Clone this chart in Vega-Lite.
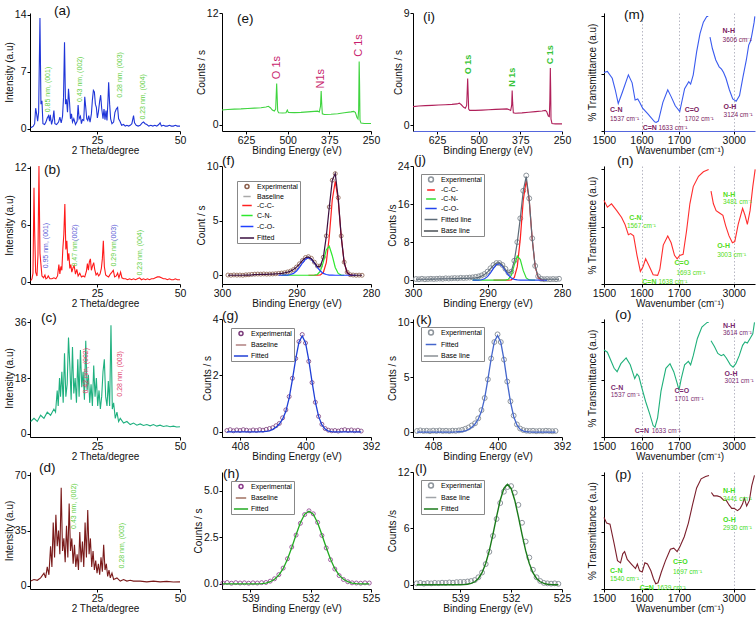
{
"$schema":"https://vega.github.io/schema/vega-lite/v6.json",
"padding":{"left":4,"top":3,"right":0,"bottom":0},
"config":{"font":"Liberation Sans","view":{"stroke":null},
"axis":{"grid":false,"domainColor":"#000","tickColor":"#000","tickSize":3,"labelColor":"#111","labelFontSize":10.5,"labelPadding":1,"labelFlush":false,"labelOverlap":false,"titleFontSize":10,"titleFontWeight":"normal","titleColor":"#111","titlePadding":0},
"title":{"fontSize":13.5,"fontWeight":"normal","anchor":"start","frame":"group","color":"#111"}},
"datasets":{
"xrd_a":[{"theta":5.0,"intensity":0.1},{"theta":5.4,"intensity":0.2},{"theta":5.8,"intensity":0.3},{"theta":6.2,"intensity":0.6},{"theta":6.5,"intensity":2.5},{"theta":6.8,"intensity":1.8},{"theta":7.1,"intensity":0.9},{"theta":7.4,"intensity":2.0},{"theta":7.8,"intensity":13.6},{"theta":8.1,"intensity":3.0},{"theta":8.4,"intensity":3.4},{"theta":8.7,"intensity":0.6},{"theta":9.2,"intensity":0.5},{"theta":9.6,"intensity":0.8},{"theta":10.0,"intensity":1.3},{"theta":10.4,"intensity":1.6},{"theta":10.7,"intensity":0.9},{"theta":10.9,"intensity":1.7},{"theta":11.3,"intensity":0.5},{"theta":11.7,"intensity":1.2},{"theta":12.0,"intensity":2.2},{"theta":12.3,"intensity":0.6},{"theta":12.8,"intensity":0.5},{"theta":13.4,"intensity":0.8},{"theta":13.8,"intensity":1.4},{"theta":14.2,"intensity":0.7},{"theta":14.6,"intensity":1.5},{"theta":14.9,"intensity":3.8},{"theta":15.2,"intensity":10.6},{"theta":15.5,"intensity":3.0},{"theta":15.8,"intensity":3.6},{"theta":16.1,"intensity":2.0},{"theta":16.4,"intensity":4.9},{"theta":16.7,"intensity":3.3},{"theta":17.0,"intensity":1.2},{"theta":17.3,"intensity":1.8},{"theta":17.6,"intensity":0.8},{"theta":18.0,"intensity":1.2},{"theta":18.5,"intensity":0.5},{"theta":19.0,"intensity":0.9},{"theta":19.3,"intensity":2.9},{"theta":19.6,"intensity":1.2},{"theta":20.0,"intensity":1.5},{"theta":20.3,"intensity":0.6},{"theta":20.6,"intensity":1.1},{"theta":21.0,"intensity":1.0},{"theta":21.3,"intensity":3.9},{"theta":21.6,"intensity":2.6},{"theta":21.9,"intensity":1.2},{"theta":22.2,"intensity":1.0},{"theta":22.5,"intensity":1.6},{"theta":22.9,"intensity":0.8},{"theta":23.3,"intensity":1.8},{"theta":23.6,"intensity":3.5},{"theta":23.9,"intensity":4.7},{"theta":24.2,"intensity":4.5},{"theta":24.5,"intensity":3.0},{"theta":24.8,"intensity":2.6},{"theta":25.1,"intensity":1.3},{"theta":25.4,"intensity":2.0},{"theta":25.8,"intensity":3.4},{"theta":26.1,"intensity":4.1},{"theta":26.4,"intensity":2.5},{"theta":26.8,"intensity":1.2},{"theta":27.1,"intensity":2.4},{"theta":27.4,"intensity":1.1},{"theta":27.7,"intensity":2.2},{"theta":28.0,"intensity":1.0},{"theta":28.3,"intensity":3.5},{"theta":28.5,"intensity":5.7},{"theta":28.8,"intensity":3.0},{"theta":29.1,"intensity":1.2},{"theta":29.5,"intensity":0.6},{"theta":30.0,"intensity":0.8},{"theta":30.4,"intensity":2.0},{"theta":30.8,"intensity":2.4},{"theta":31.2,"intensity":2.6},{"theta":31.5,"intensity":1.2},{"theta":31.9,"intensity":0.9},{"theta":32.4,"intensity":0.4},{"theta":33.0,"intensity":0.5},{"theta":33.5,"intensity":0.3},{"theta":34.0,"intensity":0.4},{"theta":34.5,"intensity":0.3},{"theta":35.0,"intensity":0.4},{"theta":35.5,"intensity":0.6},{"theta":36.0,"intensity":1.6},{"theta":36.3,"intensity":0.7},{"theta":36.8,"intensity":0.4},{"theta":37.4,"intensity":0.3},{"theta":38.0,"intensity":0.4},{"theta":38.6,"intensity":0.7},{"theta":39.0,"intensity":0.8},{"theta":39.5,"intensity":0.6},{"theta":40.0,"intensity":0.5},{"theta":40.6,"intensity":0.3},{"theta":41.2,"intensity":0.4},{"theta":41.8,"intensity":0.3},{"theta":42.4,"intensity":0.4},{"theta":43.0,"intensity":0.3},{"theta":43.6,"intensity":0.5},{"theta":44.0,"intensity":0.7},{"theta":44.4,"intensity":0.3},{"theta":45.0,"intensity":0.4},{"theta":45.6,"intensity":0.3},{"theta":46.2,"intensity":0.3},{"theta":46.8,"intensity":0.4},{"theta":47.4,"intensity":0.3},{"theta":48.0,"intensity":0.3},{"theta":48.6,"intensity":0.4},{"theta":49.2,"intensity":0.3},{"theta":50.0,"intensity":0.3}],
"xrd_b":[{"theta":5.0,"intensity":0.1},{"theta":5.4,"intensity":0.3},{"theta":5.7,"intensity":0.9},{"theta":6.0,"intensity":9.9},{"theta":6.2,"intensity":5.3},{"theta":6.5,"intensity":1.0},{"theta":6.9,"intensity":0.6},{"theta":7.2,"intensity":2.8},{"theta":7.5,"intensity":12.2},{"theta":7.8,"intensity":3.0},{"theta":8.1,"intensity":1.8},{"theta":8.4,"intensity":0.6},{"theta":8.9,"intensity":0.4},{"theta":9.3,"intensity":0.7},{"theta":9.6,"intensity":0.3},{"theta":10.0,"intensity":0.4},{"theta":10.3,"intensity":0.6},{"theta":10.8,"intensity":0.3},{"theta":11.4,"intensity":0.3},{"theta":12.0,"intensity":0.4},{"theta":12.6,"intensity":0.3},{"theta":13.1,"intensity":0.6},{"theta":13.5,"intensity":1.8},{"theta":13.8,"intensity":0.8},{"theta":14.1,"intensity":1.6},{"theta":14.4,"intensity":1.2},{"theta":14.7,"intensity":3.5},{"theta":15.0,"intensity":5.0},{"theta":15.3,"intensity":8.2},{"theta":15.6,"intensity":3.4},{"theta":15.9,"intensity":4.3},{"theta":16.2,"intensity":2.2},{"theta":16.5,"intensity":3.0},{"theta":16.8,"intensity":1.4},{"theta":17.1,"intensity":1.8},{"theta":17.4,"intensity":1.0},{"theta":17.8,"intensity":1.5},{"theta":18.1,"intensity":1.7},{"theta":18.5,"intensity":0.8},{"theta":18.9,"intensity":1.3},{"theta":19.3,"intensity":0.6},{"theta":19.8,"intensity":0.9},{"theta":20.3,"intensity":0.5},{"theta":20.8,"intensity":0.6},{"theta":21.3,"intensity":0.5},{"theta":21.8,"intensity":1.1},{"theta":22.1,"intensity":1.9},{"theta":22.4,"intensity":1.2},{"theta":22.7,"intensity":2.1},{"theta":23.0,"intensity":2.4},{"theta":23.3,"intensity":1.2},{"theta":23.6,"intensity":1.6},{"theta":24.0,"intensity":2.0},{"theta":24.3,"intensity":1.3},{"theta":24.7,"intensity":0.7},{"theta":25.1,"intensity":0.9},{"theta":25.5,"intensity":0.6},{"theta":25.9,"intensity":0.8},{"theta":26.3,"intensity":1.4},{"theta":26.6,"intensity":2.4},{"theta":26.9,"intensity":4.3},{"theta":27.2,"intensity":1.6},{"theta":27.6,"intensity":0.7},{"theta":28.0,"intensity":0.6},{"theta":28.5,"intensity":0.5},{"theta":29.0,"intensity":0.8},{"theta":29.5,"intensity":1.0},{"theta":29.9,"intensity":1.2},{"theta":30.3,"intensity":0.5},{"theta":30.8,"intensity":0.6},{"theta":31.2,"intensity":0.9},{"theta":31.6,"intensity":0.4},{"theta":32.1,"intensity":1.0},{"theta":32.5,"intensity":0.4},{"theta":33.0,"intensity":0.3},{"theta":33.6,"intensity":0.3},{"theta":34.2,"intensity":0.2},{"theta":34.8,"intensity":0.3},{"theta":35.4,"intensity":0.2},{"theta":36.0,"intensity":0.3},{"theta":36.6,"intensity":0.2},{"theta":37.2,"intensity":0.3},{"theta":37.8,"intensity":0.4},{"theta":38.4,"intensity":0.2},{"theta":39.0,"intensity":0.3},{"theta":39.6,"intensity":0.2},{"theta":40.2,"intensity":0.3},{"theta":40.8,"intensity":0.2},{"theta":41.4,"intensity":0.3},{"theta":42.0,"intensity":0.3},{"theta":42.6,"intensity":0.4},{"theta":43.2,"intensity":0.5},{"theta":43.8,"intensity":0.5},{"theta":44.4,"intensity":0.4},{"theta":45.0,"intensity":0.3},{"theta":45.6,"intensity":0.3},{"theta":46.2,"intensity":0.2},{"theta":46.8,"intensity":0.3},{"theta":47.4,"intensity":0.2},{"theta":48.0,"intensity":0.2},{"theta":48.6,"intensity":0.3},{"theta":49.2,"intensity":0.2},{"theta":50.0,"intensity":0.2}],
"xrd_c":[{"theta":5.0,"intensity":4},{"theta":6,"intensity":5},{"theta":7,"intensity":4},{"theta":8,"intensity":6},{"theta":9,"intensity":5},{"theta":10,"intensity":7},{"theta":11,"intensity":6},{"theta":12,"intensity":8},{"theta":12.5,"intensity":7},{"theta":13.0,"intensity":14},{"theta":13.3,"intensity":9},{"theta":13.7,"intensity":18},{"theta":14.0,"intensity":12},{"theta":14.4,"intensity":20},{"theta":14.8,"intensity":10},{"theta":15.2,"intensity":26},{"theta":15.6,"intensity":12},{"theta":16.0,"intensity":16},{"theta":16.4,"intensity":31},{"theta":16.8,"intensity":22},{"theta":17.2,"intensity":11},{"theta":17.6,"intensity":28},{"theta":18.0,"intensity":13},{"theta":18.4,"intensity":18},{"theta":18.8,"intensity":10},{"theta":19.2,"intensity":24},{"theta":19.6,"intensity":12},{"theta":20.0,"intensity":27},{"theta":20.4,"intensity":15},{"theta":20.8,"intensity":20},{"theta":21.2,"intensity":11},{"theta":21.6,"intensity":30},{"theta":22.0,"intensity":14},{"theta":22.4,"intensity":19},{"theta":22.8,"intensity":10},{"theta":23.2,"intensity":16},{"theta":23.6,"intensity":9},{"theta":24.0,"intensity":22},{"theta":24.4,"intensity":12},{"theta":24.8,"intensity":18},{"theta":25.2,"intensity":9},{"theta":25.6,"intensity":14},{"theta":26.0,"intensity":8},{"theta":26.4,"intensity":12},{"theta":26.8,"intensity":20},{"theta":27.2,"intensity":24},{"theta":27.6,"intensity":12},{"theta":28.0,"intensity":9},{"theta":28.4,"intensity":17},{"theta":28.8,"intensity":9},{"theta":29.2,"intensity":35},{"theta":29.6,"intensity":8},{"theta":30.0,"intensity":10},{"theta":30.5,"intensity":5},{"theta":31,"intensity":7},{"theta":31.5,"intensity":4},{"theta":32,"intensity":5},{"theta":33,"intensity":3.5},{"theta":34,"intensity":4},{"theta":35,"intensity":3},{"theta":36,"intensity":3.5},{"theta":37,"intensity":2.8},{"theta":38,"intensity":3.2},{"theta":39,"intensity":2.7},{"theta":40,"intensity":3},{"theta":41,"intensity":2.6},{"theta":42,"intensity":3},{"theta":43,"intensity":2.5},{"theta":44,"intensity":2.8},{"theta":45,"intensity":2.4},{"theta":46,"intensity":2.6},{"theta":47,"intensity":2.3},{"theta":48,"intensity":2.5},{"theta":49,"intensity":2.2},{"theta":50,"intensity":2.3}],
"xrd_d":[{"theta":5,"intensity":3},{"theta":6,"intensity":4},{"theta":7,"intensity":3.5},{"theta":8,"intensity":5},{"theta":9,"intensity":8},{"theta":9.5,"intensity":5},{"theta":10,"intensity":12},{"theta":10.5,"intensity":7},{"theta":11,"intensity":25},{"theta":11.4,"intensity":12},{"theta":11.8,"intensity":40},{"theta":12.2,"intensity":18},{"theta":12.6,"intensity":45},{"theta":13.0,"intensity":25},{"theta":13.4,"intensity":35},{"theta":13.8,"intensity":20},{"theta":14.2,"intensity":62},{"theta":14.6,"intensity":22},{"theta":15.0,"intensity":30},{"theta":15.4,"intensity":15},{"theta":15.8,"intensity":38},{"theta":16.2,"intensity":18},{"theta":16.6,"intensity":52},{"theta":17.0,"intensity":22},{"theta":17.4,"intensity":30},{"theta":17.8,"intensity":14},{"theta":18.2,"intensity":26},{"theta":18.6,"intensity":12},{"theta":19.0,"intensity":20},{"theta":19.4,"intensity":10},{"theta":19.8,"intensity":34},{"theta":20.2,"intensity":15},{"theta":20.6,"intensity":28},{"theta":21.0,"intensity":12},{"theta":21.4,"intensity":40},{"theta":21.8,"intensity":18},{"theta":22.2,"intensity":48},{"theta":22.6,"intensity":20},{"theta":23.0,"intensity":30},{"theta":23.4,"intensity":12},{"theta":23.8,"intensity":22},{"theta":24.2,"intensity":10},{"theta":24.6,"intensity":16},{"theta":25.0,"intensity":8},{"theta":25.4,"intensity":14},{"theta":25.8,"intensity":7},{"theta":26.2,"intensity":18},{"theta":26.6,"intensity":9},{"theta":27.0,"intensity":26},{"theta":27.4,"intensity":10},{"theta":27.8,"intensity":14},{"theta":28.2,"intensity":6},{"theta":28.6,"intensity":10},{"theta":29.0,"intensity":5},{"theta":29.5,"intensity":8},{"theta":30,"intensity":4},{"theta":31,"intensity":5},{"theta":32,"intensity":3},{"theta":33,"intensity":4},{"theta":34,"intensity":3},{"theta":35,"intensity":3.5},{"theta":36,"intensity":3},{"theta":38,"intensity":3},{"theta":40,"intensity":2.5},{"theta":42,"intensity":3},{"theta":44,"intensity":2.5},{"theta":46,"intensity":2.8},{"theta":48,"intensity":2.4},{"theta":50,"intensity":2.5}],
"lab_a":[{"theta":10.3,"intensity":2.0,"label":"0.85 nm, (001)"},{"theta":19.8,"intensity":3.25,"label":"0.43 nm, (002)"},{"theta":31.8,"intensity":3.8,"label":"0.28 nm, (003)"},{"theta":38.8,"intensity":1.1,"label":"0.23 nm, (004)"}],
"lab_b":[{"theta":9.5,"intensity":1.4,"label":"0.95 nm, (001)","part":"hkl"},{"theta":18.5,"intensity":1.6,"label":"0.47 nm,","part":"d"},{"theta":18.5,"intensity":4.3,"label":"(002)","part":"hkl"},{"theta":30.1,"intensity":1.6,"label":"0.29 nm,","part":"d"},{"theta":30.1,"intensity":4.3,"label":"(003)","part":"hkl"},{"theta":37.8,"intensity":0.65,"label":"0.23 nm, (004)","part":"d"}],
"lab_c":[{"theta":21.8,"intensity":13,"label":"0.42 nm, (002)"},{"theta":32,"intensity":12,"label":"0.28 nm, (003)"}],
"lab_d":[{"theta":18.2,"intensity":36,"label":"0.43 nm, (002)"},{"theta":32.6,"intensity":11,"label":"0.28 nm, (003)"}],
"sv_e":[{"be":697,"counts":1.6},{"be":680,"counts":1.65},{"be":660,"counts":1.7},{"be":640,"counts":1.72},{"be":620,"counts":1.76},{"be":600,"counts":1.8},{"be":580,"counts":1.85},{"be":565,"counts":1.92},{"be":558,"counts":2.0},{"be":552,"counts":1.85},{"be":546,"counts":1.6},{"be":540,"counts":1.5},{"be":536,"counts":1.7},{"be":533,"counts":4.43},{"be":531.5,"counts":3.0},{"be":530,"counts":1.5},{"be":527,"counts":1.3},{"be":515,"counts":1.28},{"be":505,"counts":1.3},{"be":501,"counts":1.6},{"be":498,"counts":1.35},{"be":480,"counts":1.32},{"be":460,"counts":1.35},{"be":440,"counts":1.4},{"be":420,"counts":1.45},{"be":410,"counts":1.48},{"be":405,"counts":1.4},{"be":401.5,"counts":2.0},{"be":399.5,"counts":3.64},{"be":398,"counts":2.4},{"be":396,"counts":1.2},{"be":390,"counts":1.12},{"be":370,"counts":1.15},{"be":350,"counts":1.2},{"be":330,"counts":1.3},{"be":310,"counts":1.4},{"be":302,"counts":1.45},{"be":297,"counts":1.35},{"be":292,"counts":0.8},{"be":289,"counts":0.65},{"be":287,"counts":1.6},{"be":285.5,"counts":6.8},{"be":284.3,"counts":4.5},{"be":283,"counts":0.5},{"be":280,"counts":0.2},{"be":270,"counts":0.15},{"be":260,"counts":0.15},{"be":250,"counts":0.15}],
"sv_i":[{"be":697,"counts":1.5},{"be":680,"counts":1.55},{"be":660,"counts":1.58},{"be":640,"counts":1.6},{"be":620,"counts":1.63},{"be":600,"counts":1.65},{"be":580,"counts":1.68},{"be":565,"counts":1.72},{"be":558,"counts":1.78},{"be":552,"counts":1.65},{"be":545,"counts":1.45},{"be":540,"counts":1.38},{"be":536,"counts":1.6},{"be":533,"counts":3.75},{"be":531.5,"counts":2.6},{"be":530,"counts":1.3},{"be":527,"counts":1.2},{"be":510,"counts":1.2},{"be":490,"counts":1.22},{"be":470,"counts":1.25},{"be":450,"counts":1.28},{"be":430,"counts":1.3},{"be":415,"counts":1.32},{"be":408,"counts":1.25},{"be":404,"counts":1.2},{"be":401,"counts":1.6},{"be":399.5,"counts":2.8},{"be":398,"counts":1.8},{"be":396,"counts":1.0},{"be":390,"counts":0.97},{"be":370,"counts":1.0},{"be":350,"counts":1.05},{"be":330,"counts":1.1},{"be":310,"counts":1.15},{"be":300,"counts":1.2},{"be":296,"counts":1.1},{"be":291,"counts":0.75},{"be":288,"counts":0.7},{"be":286.5,"counts":2.0},{"be":285,"counts":4.6},{"be":284,"counts":3.0},{"be":283,"counts":0.5},{"be":280,"counts":0.15},{"be":270,"counts":0.12},{"be":260,"counts":0.12},{"be":250,"counts":0.12}],
"svl_e":[{"be":532,"counts":4.9,"label":"O 1s"},{"be":400,"counts":3.9,"label":"N1s"},{"be":285,"counts":7.3,"label":"C 1s"}],
"svl_i":[{"be":532,"counts":4.1,"label":"O 1s"},{"be":400,"counts":3.1,"label":"N 1s"},{"be":285,"counts":4.9,"label":"C 1s"}],
"xps_f":[{"be":299.2,"Experimental":0.02,"Fitted":0,"Baseline":0},{"be":298.8,"Experimental":0.0,"Fitted":0},{"be":298.4,"Experimental":0.03,"Fitted":0},{"be":298.0,"Experimental":0.01,"Fitted":0},{"be":297.6,"Experimental":0.02,"Fitted":0},{"be":297.2,"Experimental":0.0,"Fitted":0},{"be":296.8,"Experimental":0.04,"Fitted":0.01},{"be":296.4,"Experimental":0.05,"Fitted":0.02},{"be":296.0,"Experimental":0.08,"Fitted":0.03},{"be":295.6,"Experimental":0.1,"Fitted":0.05},{"be":295.2,"Experimental":0.11,"Fitted":0.07},{"be":294.8,"Experimental":0.1,"Fitted":0.08},{"be":294.4,"Experimental":0.12,"Fitted":0.08},{"be":294.0,"Experimental":0.1,"Fitted":0.09},{"be":293.6,"Experimental":0.11,"Fitted":0.1},{"be":293.2,"Experimental":0.12,"Fitted":0.11},{"be":292.8,"Experimental":0.14,"Fitted":0.13},{"be":292.4,"Experimental":0.17,"Fitted":0.15,"-C-O-":0},{"be":292.0,"Experimental":0.2,"Fitted":0.18,"C-N-":0,"-C-O-":0},{"be":291.6,"Experimental":0.23,"Fitted":0.22,"C-N-":0,"-C-O-":0.01},{"be":291.2,"Experimental":0.3,"Fitted":0.28,"C-N-":0,"-C-O-":0.02},{"be":290.8,"Experimental":0.38,"Fitted":0.38,"C-N-":0,"-C-O-":0.07},{"be":290.4,"Experimental":0.52,"Fitted":0.52,"C-N-":0,"-C-O-":0.17},{"be":290.0,"Experimental":0.75,"Fitted":0.74,"C-N-":0,"-C-O-":0.39},{"be":289.6,"Experimental":1.05,"Fitted":1.02,"C-N-":0,"-C-O-":0.72},{"be":289.2,"Experimental":1.35,"Fitted":1.35,"C-N-":0,"-C-O-":1.12},{"be":288.8,"Experimental":1.62,"Fitted":1.6,"C-N-":0,"-C-O-":1.46},{"be":288.4,"Experimental":1.7,"Fitted":1.68,"-C-C-":0,"C-N-":0,"-C-O-":1.6},{"be":288.0,"Experimental":1.55,"Fitted":1.52,"-C-C-":0,"C-N-":0,"-C-O-":1.46},{"be":287.6,"Experimental":1.2,"Fitted":1.15,"-C-C-":0,"C-N-":0.01,"-C-O-":1.12},{"be":287.2,"Experimental":0.85,"Fitted":0.8,"-C-C-":0,"C-N-":0.07,"-C-O-":0.72},{"be":286.8,"Experimental":0.85,"Fitted":0.82,"-C-C-":0.03,"C-N-":0.37,"-C-O-":0.39},{"be":286.4,"Experimental":1.65,"Fitted":1.62,"-C-C-":0.25,"C-N-":1.2,"-C-O-":0.17},{"be":286.0,"Experimental":3.6,"Fitted":3.56,"-C-C-":1.16,"C-N-":2.33,"-C-O-":0.07},{"be":285.6,"Experimental":6.25,"Fitted":6.22,"-C-C-":3.54,"C-N-":2.66,"-C-O-":0.02},{"be":285.2,"Experimental":8.7,"Fitted":8.69,"-C-C-":6.89,"C-N-":1.79,"-C-O-":0.01},{"be":284.8,"Experimental":9.3,"Fitted":9.31,"-C-C-":8.6,"C-N-":0.71,"-C-O-":0},{"be":284.4,"Experimental":7.1,"Fitted":7.06,"-C-C-":6.89,"C-N-":0.17,"-C-O-":0},{"be":284.0,"Experimental":3.6,"Fitted":3.56,"-C-C-":3.54,"C-N-":0.02,"-C-O-":0},{"be":283.6,"Experimental":1.2,"Fitted":1.16,"-C-C-":1.16,"C-N-":0,"-C-O-":0},{"be":283.2,"Experimental":0.28,"Fitted":0.25,"-C-C-":0.25,"-C-O-":0},{"be":282.8,"Experimental":0.05,"Fitted":0.03,"-C-C-":0.03,"-C-O-":0},{"be":282.4,"Experimental":0.02,"Fitted":0,"-C-C-":0,"-C-O-":0},{"be":282.0,"Experimental":0.0,"Fitted":0,"-C-O-":0},{"be":281.6,"Experimental":0.01,"Fitted":0},{"be":281.2,"Experimental":0.0,"Fitted":0,"Baseline":0}],
"xps_j":[{"be":299.6,"Experimental":0.25,"Fitted line":0.2,"Base line":0},{"be":299.2,"Experimental":0.2,"Fitted line":0.2},{"be":298.8,"Experimental":0.3,"Fitted line":0.2},{"be":298.4,"Experimental":0.2,"Fitted line":0.2},{"be":298.0,"Experimental":0.25,"Fitted line":0.2},{"be":297.6,"Experimental":0.3,"Fitted line":0.22},{"be":297.2,"Experimental":0.25,"Fitted line":0.22},{"be":296.8,"Experimental":0.3,"Fitted line":0.25},{"be":296.4,"Experimental":0.35,"Fitted line":0.27},{"be":296.0,"Experimental":0.3,"Fitted line":0.28},{"be":295.6,"Experimental":0.4,"Fitted line":0.3},{"be":295.2,"Experimental":0.35,"Fitted line":0.3},{"be":294.8,"Experimental":0.4,"Fitted line":0.32},{"be":294.4,"Experimental":0.45,"Fitted line":0.33},{"be":294.0,"Experimental":0.4,"Fitted line":0.35},{"be":293.6,"Experimental":0.5,"Fitted line":0.37},{"be":293.2,"Experimental":0.45,"Fitted line":0.38},{"be":292.8,"Experimental":0.5,"Fitted line":0.4},{"be":292.4,"Experimental":0.55,"Fitted line":0.42},{"be":292.0,"Experimental":0.6,"Fitted line":0.45,"-C-N-":0,"-C-O-":0},{"be":291.6,"Experimental":0.7,"Fitted line":0.5,"-C-N-":0,"-C-O-":0},{"be":291.2,"Experimental":0.8,"Fitted line":0.6,"-C-N-":0,"-C-O-":0.02},{"be":290.8,"Experimental":1.0,"Fitted line":0.85,"-C-N-":0,"-C-O-":0.09},{"be":290.4,"Experimental":1.3,"Fitted line":1.2,"-C-N-":0,"-C-O-":0.29},{"be":290.0,"Experimental":1.8,"Fitted line":1.7,"-C-N-":0,"-C-O-":0.74},{"be":289.6,"Experimental":2.5,"Fitted line":2.4,"-C-N-":0,"-C-O-":1.52},{"be":289.2,"Experimental":3.2,"Fitted line":3.1,"-C-C-":0,"-C-N-":0,"-C-O-":2.49},{"be":288.8,"Experimental":3.6,"Fitted line":3.6,"-C-C-":0,"-C-N-":0,"-C-O-":3.29},{"be":288.4,"Experimental":3.6,"Fitted line":3.7,"-C-C-":0,"-C-N-":0,"-C-O-":3.48},{"be":288.0,"Experimental":3.2,"Fitted line":3.2,"-C-C-":0,"-C-N-":0,"-C-O-":2.94},{"be":287.6,"Experimental":2.4,"Fitted line":2.3,"-C-C-":0,"-C-N-":0.02,"-C-O-":2.0},{"be":287.2,"Experimental":1.6,"Fitted line":1.5,"-C-C-":0,"-C-N-":0.18,"-C-O-":1.09},{"be":286.8,"Experimental":1.8,"Fitted line":1.8,"-C-C-":0.08,"-C-N-":1.05,"-C-O-":0.47},{"be":286.4,"Experimental":4.1,"Fitted line":4.1,"-C-C-":0.6,"-C-N-":3.21,"-C-O-":0.17},{"be":286.0,"Experimental":8.0,"Fitted line":8.0,"-C-C-":2.84,"-C-N-":5.09,"-C-O-":0.05},{"be":285.6,"Experimental":13.0,"Fitted line":13.0,"-C-C-":8.63,"-C-N-":4.34,"-C-O-":0.01},{"be":285.2,"Experimental":18.8,"Fitted line":18.8,"-C-C-":16.82,"-C-N-":2.0,"-C-O-":0},{"be":284.8,"Experimental":22.0,"Fitted line":21.8,"-C-C-":21.0,"-C-N-":0.47,"-C-O-":0},{"be":284.4,"Experimental":17.2,"Fitted line":16.9,"-C-C-":16.82,"-C-N-":0.06,"-C-O-":0},{"be":284.0,"Experimental":8.8,"Fitted line":8.7,"-C-C-":8.63,"-C-N-":0,"-C-O-":0},{"be":283.6,"Experimental":3.0,"Fitted line":2.9,"-C-C-":2.84,"-C-N-":0,"-C-O-":0},{"be":283.2,"Experimental":0.8,"Fitted line":0.7,"-C-C-":0.6,"-C-O-":0},{"be":282.8,"Experimental":0.3,"Fitted line":0.25,"-C-C-":0.08,"-C-O-":0},{"be":282.4,"Experimental":0.2,"Fitted line":0.2,"-C-C-":0,"-C-O-":0},{"be":282.0,"Experimental":0.25,"Fitted line":0.2,"-C-O-":0},{"be":281.6,"Experimental":0.2,"Fitted line":0.2},{"be":281.2,"Experimental":0.25,"Fitted line":0.2},{"be":280.8,"Experimental":0.2,"Fitted line":0.2},{"be":280.4,"Experimental":0.3,"Fitted line":0.2,"Base line":0}],
"xps_g":[{"be":409.6,"Experimental":0.05,"Fitted":0,"Baseline":0},{"be":409.2,"Experimental":0.08,"Fitted":0},{"be":408.8,"Experimental":0.04,"Fitted":0},{"be":408.4,"Experimental":0.07,"Fitted":0},{"be":408.0,"Experimental":0.05,"Fitted":0},{"be":407.6,"Experimental":0.08,"Fitted":0},{"be":407.2,"Experimental":0.06,"Fitted":0},{"be":406.8,"Experimental":0.04,"Fitted":0},{"be":406.4,"Experimental":0.07,"Fitted":0},{"be":406.0,"Experimental":0.05,"Fitted":0},{"be":405.6,"Experimental":0.08,"Fitted":0},{"be":405.2,"Experimental":0.06,"Fitted":0.01},{"be":404.8,"Experimental":0.09,"Fitted":0.02},{"be":404.4,"Experimental":0.12,"Fitted":0.04},{"be":404.0,"Experimental":0.15,"Fitted":0.09},{"be":403.6,"Experimental":0.22,"Fitted":0.17},{"be":403.2,"Experimental":0.3,"Fitted":0.28},{"be":402.8,"Experimental":0.5,"Fitted":0.45},{"be":402.4,"Experimental":0.78,"Fitted":0.73},{"be":402.0,"Experimental":1.25,"Fitted":1.2},{"be":401.6,"Experimental":1.9,"Fitted":1.85},{"be":401.2,"Experimental":2.6,"Fitted":2.58},{"be":400.8,"Experimental":3.2,"Fitted":3.18},{"be":400.4,"Experimental":3.45,"Fitted":3.4},{"be":400.0,"Experimental":3.15,"Fitted":3.16},{"be":399.6,"Experimental":2.5,"Fitted":2.54},{"be":399.2,"Experimental":1.75,"Fitted":1.77},{"be":398.8,"Experimental":1.05,"Fitted":1.06},{"be":398.4,"Experimental":0.55,"Fitted":0.55},{"be":398.0,"Experimental":0.27,"Fitted":0.25},{"be":397.6,"Experimental":0.12,"Fitted":0.1},{"be":397.2,"Experimental":0.06,"Fitted":0.03},{"be":396.8,"Experimental":0.04,"Fitted":0.01},{"be":396.4,"Experimental":0.05,"Fitted":0},{"be":396.0,"Experimental":0.03,"Fitted":0},{"be":395.6,"Experimental":0.06,"Fitted":0},{"be":395.2,"Experimental":0.08,"Fitted":0},{"be":394.8,"Experimental":0.05,"Fitted":0},{"be":394.4,"Experimental":0.07,"Fitted":0},{"be":394.0,"Experimental":0.04,"Fitted":0},{"be":393.6,"Experimental":0.06,"Fitted":0},{"be":393.2,"Experimental":0.03,"Fitted":0,"Baseline":0}],
"xps_k":[{"be":410.0,"Experimental":0.1,"Fitted":0,"Base line":0},{"be":409.6,"Experimental":0.15,"Fitted":0},{"be":409.2,"Experimental":0.1,"Fitted":0},{"be":408.8,"Experimental":0.12,"Fitted":0},{"be":408.4,"Experimental":0.08,"Fitted":0},{"be":408.0,"Experimental":0.13,"Fitted":0},{"be":407.6,"Experimental":0.1,"Fitted":0},{"be":407.2,"Experimental":0.14,"Fitted":0},{"be":406.8,"Experimental":0.1,"Fitted":0},{"be":406.4,"Experimental":0.12,"Fitted":0},{"be":406.0,"Experimental":0.09,"Fitted":0},{"be":405.6,"Experimental":0.13,"Fitted":0},{"be":405.2,"Experimental":0.11,"Fitted":0.01},{"be":404.8,"Experimental":0.15,"Fitted":0.03},{"be":404.4,"Experimental":0.2,"Fitted":0.05},{"be":404.0,"Experimental":0.3,"Fitted":0.1},{"be":403.6,"Experimental":0.42,"Fitted":0.23},{"be":403.2,"Experimental":0.6,"Fitted":0.44},{"be":402.8,"Experimental":0.8,"Fitted":0.73},{"be":402.4,"Experimental":1.25,"Fitted":1.17},{"be":402.0,"Experimental":2.0,"Fitted":1.89},{"be":401.6,"Experimental":3.1,"Fitted":3.1},{"be":401.2,"Experimental":4.8,"Fitted":4.79},{"be":400.8,"Experimental":6.7,"Fitted":6.68},{"be":400.4,"Experimental":8.2,"Fitted":8.24},{"be":400.0,"Experimental":8.9,"Fitted":8.81},{"be":399.6,"Experimental":8.2,"Fitted":8.18},{"be":399.2,"Experimental":6.6,"Fitted":6.58},{"be":398.8,"Experimental":4.6,"Fitted":4.58},{"be":398.4,"Experimental":2.8,"Fitted":2.75},{"be":398.0,"Experimental":1.5,"Fitted":1.42},{"be":397.6,"Experimental":0.7,"Fitted":0.65},{"be":397.2,"Experimental":0.32,"Fitted":0.25},{"be":396.8,"Experimental":0.18,"Fitted":0.09},{"be":396.4,"Experimental":0.12,"Fitted":0.03},{"be":396.0,"Experimental":0.1,"Fitted":0.01},{"be":395.6,"Experimental":0.12,"Fitted":0},{"be":395.2,"Experimental":0.08,"Fitted":0},{"be":394.8,"Experimental":0.11,"Fitted":0},{"be":394.4,"Experimental":0.09,"Fitted":0},{"be":394.0,"Experimental":0.12,"Fitted":0},{"be":393.6,"Experimental":0.1,"Fitted":0},{"be":393.2,"Experimental":0.08,"Fitted":0},{"be":392.8,"Experimental":0.1,"Fitted":0,"Base line":0}],
"xps_h":[{"be":542.2,"Experimental":0.05,"Fitted":0,"Baseline":0},{"be":541.7,"Experimental":0.08,"Fitted":0},{"be":541.2,"Experimental":0.04,"Fitted":0},{"be":540.7,"Experimental":0.07,"Fitted":0},{"be":540.2,"Experimental":0.05,"Fitted":0},{"be":539.7,"Experimental":0.06,"Fitted":0},{"be":539.2,"Experimental":0.04,"Fitted":0.01},{"be":538.7,"Experimental":0.06,"Fitted":0.01},{"be":538.2,"Experimental":0.05,"Fitted":0.01},{"be":537.7,"Experimental":0.07,"Fitted":0.02},{"be":537.2,"Experimental":0.08,"Fitted":0.05},{"be":536.7,"Experimental":0.15,"Fitted":0.12},{"be":536.2,"Experimental":0.28,"Fitted":0.25},{"be":535.7,"Experimental":0.5,"Fitted":0.47},{"be":535.2,"Experimental":0.85,"Fitted":0.82},{"be":534.7,"Experimental":1.35,"Fitted":1.32},{"be":534.2,"Experimental":1.98,"Fitted":1.95},{"be":533.7,"Experimental":2.62,"Fitted":2.64},{"be":533.2,"Experimental":3.25,"Fitted":3.28},{"be":532.7,"Experimental":3.72,"Fitted":3.74},{"be":532.2,"Experimental":3.92,"Fitted":3.9},{"be":531.7,"Experimental":3.76,"Fitted":3.74},{"be":531.2,"Experimental":3.3,"Fitted":3.28},{"be":530.7,"Experimental":2.6,"Fitted":2.64},{"be":530.2,"Experimental":1.93,"Fitted":1.95},{"be":529.7,"Experimental":1.3,"Fitted":1.32},{"be":529.2,"Experimental":0.8,"Fitted":0.82},{"be":528.7,"Experimental":0.45,"Fitted":0.47},{"be":528.2,"Experimental":0.24,"Fitted":0.25},{"be":527.7,"Experimental":0.12,"Fitted":0.12},{"be":527.2,"Experimental":0.06,"Fitted":0.05},{"be":526.7,"Experimental":0.05,"Fitted":0.02},{"be":526.2,"Experimental":0.04,"Fitted":0.01},{"be":525.7,"Experimental":0.06,"Fitted":0},{"be":525.2,"Experimental":0.05,"Fitted":0,"Baseline":0}],
"xps_l":[{"be":545.0,"Experimental":0.15,"Fitted":0,"Base line":0},{"be":544.5,"Experimental":0.2,"Fitted":0},{"be":544.0,"Experimental":0.12,"Fitted":0},{"be":543.5,"Experimental":0.18,"Fitted":0},{"be":543.0,"Experimental":0.15,"Fitted":0},{"be":542.5,"Experimental":0.2,"Fitted":0},{"be":542.0,"Experimental":0.17,"Fitted":0},{"be":541.5,"Experimental":0.22,"Fitted":0},{"be":541.0,"Experimental":0.2,"Fitted":0},{"be":540.5,"Experimental":0.25,"Fitted":0},{"be":540.0,"Experimental":0.22,"Fitted":0},{"be":539.5,"Experimental":0.28,"Fitted":0},{"be":539.0,"Experimental":0.3,"Fitted":0.01},{"be":538.5,"Experimental":0.3,"Fitted":0.02},{"be":538.0,"Experimental":0.35,"Fitted":0.06},{"be":537.5,"Experimental":0.4,"Fitted":0.14},{"be":537.0,"Experimental":0.5,"Fitted":0.32},{"be":536.5,"Experimental":0.8,"Fitted":0.67},{"be":536.0,"Experimental":1.3,"Fitted":1.29},{"be":535.5,"Experimental":2.2,"Fitted":2.26},{"be":535.0,"Experimental":3.5,"Fitted":3.63},{"be":534.5,"Experimental":5.2,"Fitted":5.36},{"be":534.0,"Experimental":7.0,"Fitted":7.25},{"be":533.5,"Experimental":8.7,"Fitted":9.0},{"be":533.0,"Experimental":9.9,"Fitted":10.25},{"be":532.5,"Experimental":10.4,"Fitted":10.7},{"be":532.0,"Experimental":10.5,"Fitted":10.25},{"be":531.5,"Experimental":9.8,"Fitted":9.0},{"be":531.0,"Experimental":8.5,"Fitted":7.25},{"be":530.5,"Experimental":6.6,"Fitted":5.36},{"be":530.0,"Experimental":4.6,"Fitted":3.63},{"be":529.5,"Experimental":2.9,"Fitted":2.26},{"be":529.0,"Experimental":1.6,"Fitted":1.29},{"be":528.5,"Experimental":0.8,"Fitted":0.67},{"be":528.0,"Experimental":0.4,"Fitted":0.32},{"be":527.5,"Experimental":0.2,"Fitted":0.14},{"be":527.0,"Experimental":0.15,"Fitted":0.06},{"be":526.5,"Experimental":0.12,"Fitted":0.02},{"be":526.0,"Experimental":0.15,"Fitted":0},{"be":525.5,"Experimental":0.1,"Fitted":0,"Base line":0}],
"ir_m":[{"wn":1500,"t":0.51,"seg":1},{"wn":1509,"t":0.52,"seg":1},{"wn":1522,"t":0.46,"seg":1},{"wn":1530,"t":0.36,"seg":1},{"wn":1538,"t":0.24,"seg":1},{"wn":1548,"t":0.33,"seg":1},{"wn":1565,"t":0.49,"seg":1},{"wn":1575,"t":0.42,"seg":1},{"wn":1583,"t":0.27,"seg":1},{"wn":1590,"t":0.28,"seg":1},{"wn":1595,"t":0.25,"seg":1},{"wn":1603,"t":0.2,"seg":1},{"wn":1617,"t":0.15,"seg":1},{"wn":1635,"t":0.08,"seg":1},{"wn":1639,"t":0.075,"seg":1},{"wn":1645,"t":0.087,"seg":1},{"wn":1657,"t":0.25,"seg":1},{"wn":1670,"t":0.36,"seg":1},{"wn":1679,"t":0.3,"seg":1},{"wn":1690,"t":0.22,"seg":1},{"wn":1702,"t":0.17,"seg":1},{"wn":1715,"t":0.37,"seg":1},{"wn":1726,"t":0.43,"seg":1},{"wn":1731,"t":0.41,"seg":1},{"wn":1738,"t":0.49,"seg":1},{"wn":1747,"t":0.69,"seg":1},{"wn":1756,"t":0.85,"seg":1},{"wn":1765,"t":0.95,"seg":1},{"wn":1774,"t":1.0,"seg":1},{"wn":1778,"t":1.0,"seg":1},{"wn":2440,"t":0.82,"seg":2},{"wn":2496,"t":0.72,"seg":2},{"wn":2576,"t":0.62,"seg":2},{"wn":2656,"t":0.56,"seg":2},{"wn":2712,"t":0.54,"seg":2},{"wn":2760,"t":0.51,"seg":2},{"wn":2816,"t":0.46,"seg":2},{"wn":2896,"t":0.36,"seg":2},{"wn":2976,"t":0.28,"seg":2},{"wn":3056,"t":0.26,"seg":2},{"wn":3136,"t":0.31,"seg":2},{"wn":3216,"t":0.47,"seg":2},{"wn":3296,"t":0.62,"seg":2},{"wn":3352,"t":0.75,"seg":2},{"wn":3400,"t":0.79,"seg":2},{"wn":3432,"t":0.85,"seg":2},{"wn":3480,"t":0.95,"seg":2},{"wn":3496,"t":1.0,"seg":2}],
"ir_n":[{"wn":1500,"t":0.73,"seg":1},{"wn":1509,"t":0.67,"seg":1},{"wn":1520,"t":0.7,"seg":1},{"wn":1534,"t":0.64,"seg":1},{"wn":1547,"t":0.58,"seg":1},{"wn":1556,"t":0.52,"seg":1},{"wn":1565,"t":0.43,"seg":1},{"wn":1571,"t":0.44,"seg":1},{"wn":1579,"t":0.42,"seg":1},{"wn":1588,"t":0.25,"seg":1},{"wn":1597,"t":0.11,"seg":1},{"wn":1604,"t":0.15,"seg":1},{"wn":1611,"t":0.22,"seg":1},{"wn":1620,"t":0.16,"seg":1},{"wn":1631,"t":0.08,"seg":1},{"wn":1643,"t":0.075,"seg":1},{"wn":1649,"t":0.13,"seg":1},{"wn":1658,"t":0.34,"seg":1},{"wn":1670,"t":0.42,"seg":1},{"wn":1679,"t":0.36,"seg":1},{"wn":1688,"t":0.25,"seg":1},{"wn":1695,"t":0.22,"seg":1},{"wn":1702,"t":0.25,"seg":1},{"wn":1711,"t":0.26,"seg":1},{"wn":1720,"t":0.46,"seg":1},{"wn":1729,"t":0.7,"seg":1},{"wn":1738,"t":0.85,"seg":1},{"wn":1752,"t":0.94,"seg":1},{"wn":1765,"t":0.98,"seg":1},{"wn":1779,"t":1.0,"seg":1},{"wn":2464,"t":0.81,"seg":2},{"wn":2520,"t":0.7,"seg":2},{"wn":2584,"t":0.64,"seg":2},{"wn":2664,"t":0.62,"seg":2},{"wn":2744,"t":0.6,"seg":2},{"wn":2808,"t":0.51,"seg":2},{"wn":2888,"t":0.42,"seg":2},{"wn":2968,"t":0.36,"seg":2},{"wn":3024,"t":0.37,"seg":2},{"wn":3104,"t":0.52,"seg":2},{"wn":3208,"t":0.66,"seg":2},{"wn":3264,"t":0.6,"seg":2},{"wn":3320,"t":0.52,"seg":2},{"wn":3384,"t":0.64,"seg":2},{"wn":3448,"t":0.85,"seg":2},{"wn":3504,"t":1.0,"seg":2}],
"ir_o":[{"wn":1500,"t":0.76,"seg":1},{"wn":1509,"t":0.74,"seg":1},{"wn":1518,"t":0.67,"seg":1},{"wn":1527,"t":0.6,"seg":1},{"wn":1535,"t":0.57,"seg":1},{"wn":1545,"t":0.64,"seg":1},{"wn":1559,"t":0.69,"seg":1},{"wn":1570,"t":0.63,"seg":1},{"wn":1582,"t":0.51,"seg":1},{"wn":1588,"t":0.55,"seg":1},{"wn":1593,"t":0.53,"seg":1},{"wn":1600,"t":0.44,"seg":1},{"wn":1611,"t":0.31,"seg":1},{"wn":1622,"t":0.2,"seg":1},{"wn":1631,"t":0.1,"seg":1},{"wn":1636,"t":0.086,"seg":1},{"wn":1643,"t":0.17,"seg":1},{"wn":1652,"t":0.4,"seg":1},{"wn":1665,"t":0.6,"seg":1},{"wn":1676,"t":0.64,"seg":1},{"wn":1686,"t":0.57,"seg":1},{"wn":1695,"t":0.47,"seg":1},{"wn":1700,"t":0.41,"seg":1},{"wn":1706,"t":0.51,"seg":1},{"wn":1715,"t":0.63,"seg":1},{"wn":1725,"t":0.66,"seg":1},{"wn":1731,"t":0.63,"seg":1},{"wn":1738,"t":0.71,"seg":1},{"wn":1749,"t":0.86,"seg":1},{"wn":1761,"t":0.96,"seg":1},{"wn":1775,"t":1.0,"seg":1},{"wn":1779,"t":1.0,"seg":1},{"wn":2464,"t":0.84,"seg":2},{"wn":2544,"t":0.79,"seg":2},{"wn":2624,"t":0.73,"seg":2},{"wn":2704,"t":0.71,"seg":2},{"wn":2760,"t":0.72,"seg":2},{"wn":2824,"t":0.69,"seg":2},{"wn":2920,"t":0.63,"seg":2},{"wn":2984,"t":0.61,"seg":2},{"wn":3048,"t":0.64,"seg":2},{"wn":3128,"t":0.71,"seg":2},{"wn":3208,"t":0.8,"seg":2},{"wn":3264,"t":0.83,"seg":2},{"wn":3320,"t":0.82,"seg":2},{"wn":3384,"t":0.86,"seg":2},{"wn":3448,"t":0.9,"seg":2},{"wn":3488,"t":1.0,"seg":2}],
"ir_p":[{"wn":1500,"t":0.63,"seg":1},{"wn":1507,"t":0.58,"seg":1},{"wn":1516,"t":0.57,"seg":1},{"wn":1527,"t":0.4,"seg":1},{"wn":1536,"t":0.25,"seg":1},{"wn":1544,"t":0.23,"seg":1},{"wn":1550,"t":0.31,"seg":1},{"wn":1555,"t":0.33,"seg":1},{"wn":1562,"t":0.26,"seg":1},{"wn":1573,"t":0.22,"seg":1},{"wn":1584,"t":0.18,"seg":1},{"wn":1589,"t":0.22,"seg":1},{"wn":1595,"t":0.16,"seg":1},{"wn":1602,"t":0.15,"seg":1},{"wn":1609,"t":0.23,"seg":1},{"wn":1616,"t":0.22,"seg":1},{"wn":1625,"t":0.16,"seg":1},{"wn":1632,"t":0.09,"seg":1},{"wn":1638,"t":0.046,"seg":1},{"wn":1644,"t":0.055,"seg":1},{"wn":1653,"t":0.15,"seg":1},{"wn":1664,"t":0.25,"seg":1},{"wn":1677,"t":0.35,"seg":1},{"wn":1686,"t":0.36,"seg":1},{"wn":1695,"t":0.33,"seg":1},{"wn":1702,"t":0.37,"seg":1},{"wn":1714,"t":0.46,"seg":1},{"wn":1725,"t":0.58,"seg":1},{"wn":1736,"t":0.74,"seg":1},{"wn":1747,"t":0.89,"seg":1},{"wn":1759,"t":0.97,"seg":1},{"wn":1771,"t":0.99,"seg":1},{"wn":1780,"t":1.0,"seg":1},{"wn":2472,"t":0.85,"seg":2},{"wn":2528,"t":0.82,"seg":2},{"wn":2608,"t":0.82,"seg":2},{"wn":2688,"t":0.81,"seg":2},{"wn":2768,"t":0.78,"seg":2},{"wn":2824,"t":0.78,"seg":2},{"wn":2888,"t":0.74,"seg":2},{"wn":2952,"t":0.71,"seg":2},{"wn":3008,"t":0.71,"seg":2},{"wn":3088,"t":0.69,"seg":2},{"wn":3152,"t":0.71,"seg":2},{"wn":3208,"t":0.75,"seg":2},{"wn":3248,"t":0.8,"seg":2},{"wn":3304,"t":0.73,"seg":2},{"wn":3368,"t":0.78,"seg":2},{"wn":3424,"t":0.91,"seg":2},{"wn":3488,"t":1.0,"seg":2}],
"irl_m":[{"wn":1516,"t":0.18,"label":"C-N","kind":"bond"},{"wn":1516,"t":0.105,"label":"1537 cm⁻¹","kind":"wn"},{"wn":1603,"t":0.03,"label":"C=N","kind":"bond"},{"wn":1645,"t":0.03,"label":"1633 cm⁻¹","kind":"wn"},{"wn":1715,"t":0.18,"label":"C=O","kind":"bond"},{"wn":1715,"t":0.105,"label":"1702 cm⁻¹","kind":"wn"},{"wn":2736,"t":0.87,"label":"N-H","kind":"bond"},{"wn":2736,"t":0.79,"label":"3606 cm⁻¹","kind":"wn"},{"wn":2760,"t":0.21,"label":"O-H","kind":"bond"},{"wn":2760,"t":0.14,"label":"3124 cm⁻¹","kind":"wn"}],
"irl_n":[{"wn":1567,"t":0.58,"label":"C-N","kind":"bond"},{"wn":1561,"t":0.51,"label":"1567 cm⁻¹","kind":"wn"},{"wn":1602,"t":0.015,"label":"C=N","kind":"bond"},{"wn":1645,"t":0.015,"label":"1638 cm⁻¹","kind":"wn"},{"wn":1688,"t":0.18,"label":"C=O","kind":"bond"},{"wn":1693,"t":0.1,"label":"1693 cm⁻¹","kind":"wn"},{"wn":2744,"t":0.78,"label":"N-H","kind":"bond"},{"wn":2744,"t":0.72,"label":"3481 cm⁻¹","kind":"wn"},{"wn":2608,"t":0.33,"label":"O-H","kind":"bond"},{"wn":2608,"t":0.25,"label":"3003 cm⁻¹","kind":"wn"}],
"irl_o":[{"wn":1518,"t":0.43,"label":"C-N","kind":"bond"},{"wn":1518,"t":0.37,"label":"1537 cm⁻¹","kind":"wn"},{"wn":1582,"t":0.05,"label":"C=N","kind":"bond"},{"wn":1627,"t":0.05,"label":"1633 cm⁻¹","kind":"wn"},{"wn":1688,"t":0.4,"label":"C=O","kind":"bond"},{"wn":1688,"t":0.33,"label":"1701 cm⁻¹","kind":"wn"},{"wn":2744,"t":0.97,"label":"N-H","kind":"bond"},{"wn":2744,"t":0.91,"label":"3614 cm⁻¹","kind":"wn"},{"wn":2784,"t":0.55,"label":"O-H","kind":"bond"},{"wn":2784,"t":0.49,"label":"3021 cm⁻¹","kind":"wn"}],
"irl_p":[{"wn":1516,"t":0.16,"label":"C-N","kind":"bond"},{"wn":1516,"t":0.09,"label":"1540 cm⁻¹","kind":"wn"},{"wn":1595,"t":0.01,"label":"C=N","kind":"bond"},{"wn":1641,"t":0.01,"label":"1639 cm⁻¹","kind":"wn"},{"wn":1684,"t":0.24,"label":"C=O","kind":"bond"},{"wn":1684,"t":0.15,"label":"1697 cm⁻¹","kind":"wn"},{"wn":2744,"t":0.86,"label":"N-H","kind":"bond"},{"wn":2744,"t":0.79,"label":"3441 cm⁻¹","kind":"wn"},{"wn":2744,"t":0.61,"label":"O-H","kind":"bond"},{"wn":2744,"t":0.54,"label":"2930 cm⁻¹","kind":"wn"}]
},
"columns":4,
"spacing":{"row":35,"column":42},
"bounds":"flush",
"resolve":{"scale":{"color":"independent","shape":"independent","size":"independent"}},
"concat":[
{"width":150,"height":118,"title":{"text":"(a)","dx":24,"offset":-7.5},"layer":[
{"data":{"name":"xrd_a"},"mark":{"type":"line","color":"#1f35d8","strokeWidth":1.1},"encoding":{"x":{"field":"theta","type":"quantitative","scale":{"domain":[4.8,50],"nice":false,"zero":false},"axis":{"values":[25,50],"title":"2 Theta/degree"}},"y":{"field":"intensity","type":"quantitative","scale":{"domain":[-0.3,14.2],"nice":false,"zero":false},"axis":{"values":[0,7,14],"title":"Intensity (a.u)"}}}},
{"data":{"name":"lab_a"},"mark":{"type":"text","angle":270,"align":"left","baseline":"middle","fontSize":7,"color":"#5fcf3f"},"encoding":{"x":{"field":"theta","type":"quantitative"},"y":{"field":"intensity","type":"quantitative"},"text":{"field":"label"}}}]},
{"width":149,"height":118,"title":{"text":"(e)","dx":15,"offset":-17},"layer":[
{"data":{"name":"sv_e"},"mark":{"type":"line","color":"#3fd43f","strokeWidth":1.1},"encoding":{"x":{"field":"be","type":"quantitative","scale":{"domain":[697,250],"nice":false,"zero":false},"axis":{"values":[625,500,375,250],"title":"Binding Energy (eV)"}},"y":{"field":"counts","type":"quantitative","scale":{"domain":[-0.65,12],"nice":false,"zero":false},"axis":{"values":[0,4,8,12],"title":"Counts / s"}}}},
{"data":{"name":"svl_e"},"mark":{"type":"text","angle":270,"align":"left","baseline":"middle","fontSize":11,"color":"#c81e6e"},"encoding":{"x":{"field":"be","type":"quantitative"},"y":{"field":"counts","type":"quantitative"},"text":{"field":"label"}}}]},
{"width":149,"height":118,"title":{"text":"(i)","dx":10,"offset":-15},"layer":[
{"data":{"name":"sv_i"},"mark":{"type":"line","color":"#b0205a","strokeWidth":1.1},"encoding":{"x":{"field":"be","type":"quantitative","scale":{"domain":[697,250],"nice":false,"zero":false},"axis":{"values":[625,500,375,250],"title":"Binding Energy (eV)","domainColor":"#5566dd"}},"y":{"field":"counts","type":"quantitative","scale":{"domain":[-0.45,9],"nice":false,"zero":false},"axis":{"values":[0,3,6,9],"title":"Counts / s"}}}},
{"data":{"name":"svl_i"},"mark":{"type":"text","angle":270,"align":"left","baseline":"middle","fontSize":9,"fontWeight":"bold","color":"#39c43a"},"encoding":{"x":{"field":"be","type":"quantitative"},"y":{"field":"counts","type":"quantitative"},"text":{"field":"label"}}}]},
{"width":151,"height":118,"title":{"text":"(m)","dx":20,"offset":-8},"layer":[
{"data":{"name":"ir_m"},"mark":{"type":"line","color":"#3a5bef","strokeWidth":1.1},"encoding":{"x":{"field":"wn","type":"quantitative","scale":{"domain":[1500,1780,2440,3500],"range":[0,105,106,151],"nice":false,"zero":false},"axis":{"title":"Wavenumber (cm⁻¹)","values":[1500,1550,1600,1650,1700,1750,3000],"format":"d","labelExpr":"(datum.value === 1550 || datum.value === 1650 || datum.value === 1750) ? '' : datum.label","grid":true,"gridDash":[1.5,2],"gridColor":"#99a","gridOpacity":0.7,"domainColor":"#5566dd"}},"y":{"field":"t","type":"quantitative","scale":{"domain":[0,1.03],"nice":false,"zero":false},"axis":{"title":"% Transmittance (a.u)","labels":false,"values":[0,0.5,1],"titlePadding":3}},"detail":{"field":"seg"}}},
{"data":{"name":"irl_m"},"transform":[{"filter":"datum.kind === 'bond'"}],"mark":{"type":"text","align":"left","baseline":"middle","fontSize":7,"fontWeight":"bold","color":"#7b2060"},"encoding":{"x":{"field":"wn","type":"quantitative"},"y":{"field":"t","type":"quantitative"},"text":{"field":"label"}}},
{"data":{"name":"irl_m"},"transform":[{"filter":"datum.kind === 'wn'"}],"mark":{"type":"text","align":"left","baseline":"middle","fontSize":6.5,"color":"#7b2060"},"encoding":{"x":{"field":"wn","type":"quantitative"},"y":{"field":"t","type":"quantitative"},"text":{"field":"label"}}},
{"mark":{"type":"text","text":"//","fontSize":9,"color":"#333"},"encoding":{"x":{"datum":2100},"y":{"datum":0}}}]},
{"width":150,"height":118,"title":{"text":"(b)","dx":14,"offset":-13.5},"layer":[
{"data":{"name":"xrd_b"},"mark":{"type":"line","color":"#ff1a1a","strokeWidth":1.1},"encoding":{"x":{"field":"theta","type":"quantitative","scale":{"domain":[4.8,50],"nice":false,"zero":false},"axis":{"values":[25,50],"title":"2 Theta/degree"}},"y":{"field":"intensity","type":"quantitative","scale":{"domain":[-0.25,12.2],"nice":false,"zero":false},"axis":{"values":[0,6,12],"title":"Intensity (a.u)"}}}},
{"data":{"name":"lab_b"},"transform":[{"filter":"datum.part === 'd'"}],"mark":{"type":"text","angle":270,"align":"left","baseline":"middle","fontSize":7,"color":"#5fcf3f"},"encoding":{"x":{"field":"theta","type":"quantitative"},"y":{"field":"intensity","type":"quantitative"},"text":{"field":"label"}}},
{"data":{"name":"lab_b"},"transform":[{"filter":"datum.part === 'hkl'"}],"mark":{"type":"text","angle":270,"align":"left","baseline":"middle","fontSize":7,"color":"#5a5ad6"},"encoding":{"x":{"field":"theta","type":"quantitative"},"y":{"field":"intensity","type":"quantitative"},"text":{"field":"label"}}}]},
{"width":149,"height":118,"title":{"text":"(f)","dx":0,"offset":-6.5},"data":{"name":"xps_f"},"transform":[{"fold":["Experimental","Baseline","-C-C-","C-N-","-C-O-","Fitted"]}],
"encoding":{"x":{"field":"be","type":"quantitative","scale":{"domain":[300,280],"nice":false,"zero":false},"axis":{"values":[300,290,280],"title":"Binding Energy (eV)"}},"y":{"field":"value","type":"quantitative","scale":{"domain":[-0.8,10],"nice":false,"zero":false},"axis":{"values":[0,5,10],"title":"Count / s"}},
"color":{"field":"key","type":"nominal","scale":{"domain":["Experimental","Baseline","-C-C-","C-N-","-C-O-","Fitted"],"range":["#8b5e4b","#a9a9a9","#ff2020","#2ee82e","#2040ff","#3a0f3f"]},"legend":{"title":null,"orient":"top-left","offset":15,"fillColor":"#fff","strokeColor":"#888","padding":2,"rowPadding":0,"labelFontSize":7,"symbolStrokeWidth":1.5,"labelOffset":2}}},
"layer":[
{"transform":[{"filter":"datum.key === 'Experimental'"}],"mark":{"type":"point","filled":false,"strokeWidth":0.8,"opacity":1},"encoding":{"shape":{"field":"key","type":"nominal","scale":{"domain":["Experimental","Baseline","-C-C-","C-N-","-C-O-","Fitted"],"range":["circle","stroke","stroke","stroke","stroke","stroke"]},"legend":{"title":null,"orient":"top-left","offset":15,"fillColor":"#fff","strokeColor":"#888","padding":2,"rowPadding":0,"labelFontSize":7,"symbolStrokeWidth":1.5,"labelOffset":2}},"size":{"field":"key","type":"nominal","scale":{"domain":["Experimental","Baseline","-C-C-","C-N-","-C-O-","Fitted"],"range":[16,200,200,200,200,200]},"legend":{"title":null,"orient":"top-left","offset":15,"fillColor":"#fff","strokeColor":"#888","padding":2,"rowPadding":0,"labelFontSize":7,"symbolStrokeWidth":1.5,"labelOffset":2}}}},
{"transform":[{"filter":"datum.key !== 'Experimental'"}],"mark":{"type":"line","strokeWidth":1.2}}]},
{"width":149,"height":118,"title":{"text":"(j)","dx":1,"offset":-5.5},"data":{"name":"xps_j"},"transform":[{"fold":["Experimental","-C-C-","-C-N-","-C-O-","Fitted line","Base line"]}],
"encoding":{"x":{"field":"be","type":"quantitative","scale":{"domain":[300,280],"nice":false,"zero":false},"axis":{"values":[300,290,280],"title":"Binding Energy (eV)"}},"y":{"field":"value","type":"quantitative","scale":{"domain":[-0.8,24],"nice":false,"zero":false},"axis":{"values":[0,8,16,24],"title":"Counts /s"}},
"color":{"field":"key","type":"nominal","scale":{"domain":["Experimental","-C-C-","-C-N-","-C-O-","Fitted line","Base line"],"range":["#8e959c","#ff1e1e","#33dd33","#2244ee","#5d6b78","#4a4f55"]},"legend":{"title":null,"orient":"top-left","offset":8,"fillColor":"#fff","strokeColor":"#888","padding":2,"rowPadding":0,"labelFontSize":7,"symbolStrokeWidth":1.5,"labelOffset":2}}},
"layer":[
{"transform":[{"filter":"datum.key === 'Experimental'"}],"mark":{"type":"point","filled":false,"strokeWidth":1,"opacity":1},"encoding":{"shape":{"field":"key","type":"nominal","scale":{"domain":["Experimental","-C-C-","-C-N-","-C-O-","Fitted line","Base line"],"range":["circle","stroke","stroke","stroke","stroke","stroke"]},"legend":{"title":null,"orient":"top-left","offset":8,"fillColor":"#fff","strokeColor":"#888","padding":2,"rowPadding":0,"labelFontSize":7,"symbolStrokeWidth":1.5,"labelOffset":2}},"size":{"field":"key","type":"nominal","scale":{"domain":["Experimental","-C-C-","-C-N-","-C-O-","Fitted line","Base line"],"range":[24,200,200,200,200,200]},"legend":{"title":null,"orient":"top-left","offset":8,"fillColor":"#fff","strokeColor":"#888","padding":2,"rowPadding":0,"labelFontSize":7,"symbolStrokeWidth":1.5,"labelOffset":2}}}},
{"transform":[{"filter":"datum.key !== 'Experimental'"}],"mark":{"type":"line","strokeWidth":1.2}}]},
{"width":151,"height":118,"title":{"text":"(n)","dx":13,"offset":-1.5},"layer":[
{"data":{"name":"ir_n"},"mark":{"type":"line","color":"#ff2d2d","strokeWidth":1.1},"encoding":{"x":{"field":"wn","type":"quantitative","scale":{"domain":[1500,1780,2440,3500],"range":[0,105,106,151],"nice":false,"zero":false},"axis":{"title":"Wavenumber (cm⁻¹)","values":[1500,1550,1600,1650,1700,1750,3000],"format":"d","labelExpr":"(datum.value === 1550 || datum.value === 1650 || datum.value === 1750) ? '' : datum.label","grid":true,"gridDash":[1.5,2],"gridColor":"#99a","gridOpacity":0.7}},"y":{"field":"t","type":"quantitative","scale":{"domain":[0,1.03],"nice":false,"zero":false},"axis":{"title":"% Transmittance (a.u)","labels":false,"values":[0,0.5,1],"titlePadding":3}},"detail":{"field":"seg"}}},
{"data":{"name":"irl_n"},"transform":[{"filter":"datum.kind === 'bond'"}],"mark":{"type":"text","align":"left","baseline":"middle","fontSize":7,"fontWeight":"bold","color":"#55dd22"},"encoding":{"x":{"field":"wn","type":"quantitative"},"y":{"field":"t","type":"quantitative"},"text":{"field":"label"}}},
{"data":{"name":"irl_n"},"transform":[{"filter":"datum.kind === 'wn'"}],"mark":{"type":"text","align":"left","baseline":"middle","fontSize":6.5,"color":"#55dd22"},"encoding":{"x":{"field":"wn","type":"quantitative"},"y":{"field":"t","type":"quantitative"},"text":{"field":"label"}}},
{"mark":{"type":"text","text":"//","fontSize":9,"color":"#333"},"encoding":{"x":{"datum":2100},"y":{"datum":0}}}]},
{"width":150,"height":118,"title":{"text":"(c)","dx":11,"offset":-7.5},"layer":[
{"data":{"name":"xrd_c"},"mark":{"type":"line","color":"#1fb07f","strokeWidth":1.1},"encoding":{"x":{"field":"theta","type":"quantitative","scale":{"domain":[4.8,50],"nice":false,"zero":false},"axis":{"values":[25,50],"title":"2 Theta/degree"}},"y":{"field":"intensity","type":"quantitative","scale":{"domain":[-1,37],"nice":false,"zero":false},"axis":{"values":[0,18,36],"title":"Intensity (a.u)"}}}},
{"data":{"name":"lab_c"},"mark":{"type":"text","angle":270,"align":"left","baseline":"middle","fontSize":7,"color":"#e0406a"},"encoding":{"x":{"field":"theta","type":"quantitative"},"y":{"field":"intensity","type":"quantitative"},"text":{"field":"label"}}}]},
{"width":149,"height":118,"title":{"text":"(g)","dx":0,"offset":-8.5},"data":{"name":"xps_g"},"transform":[{"fold":["Experimental","Baseline","Fitted"]}],
"encoding":{"x":{"field":"be","type":"quantitative","scale":{"domain":[410.2,392],"nice":false,"zero":false},"axis":{"values":[408,400,392],"title":"Binding Energy (eV)"}},"y":{"field":"value","type":"quantitative","scale":{"domain":[-0.18,4],"nice":false,"zero":false},"axis":{"values":[0,2,4],"title":"Counts / s"}},
"color":{"field":"key","type":"nominal","scale":{"domain":["Experimental","Baseline","Fitted"],"range":["#7b3c7b","#b08080","#1f3fd6"]},"legend":{"title":null,"orient":"top-left","offset":9,"fillColor":"#fff","strokeColor":"#888","padding":2,"rowPadding":0,"labelFontSize":7,"symbolStrokeWidth":1.5,"labelOffset":2}}},
"layer":[
{"transform":[{"filter":"datum.key === 'Experimental'"}],"mark":{"type":"point","filled":false,"strokeWidth":0.8,"opacity":1},"encoding":{"shape":{"field":"key","type":"nominal","scale":{"domain":["Experimental","Baseline","Fitted"],"range":["circle","stroke","stroke"]},"legend":{"title":null,"orient":"top-left","offset":9,"fillColor":"#fff","strokeColor":"#888","padding":2,"rowPadding":0,"labelFontSize":7,"symbolStrokeWidth":1.5,"labelOffset":2}},"size":{"field":"key","type":"nominal","scale":{"domain":["Experimental","Baseline","Fitted"],"range":[16,200,200]},"legend":{"title":null,"orient":"top-left","offset":9,"fillColor":"#fff","strokeColor":"#888","padding":2,"rowPadding":0,"labelFontSize":7,"symbolStrokeWidth":1.5,"labelOffset":2}}}},
{"transform":[{"filter":"datum.key !== 'Experimental'"}],"mark":{"type":"line","strokeWidth":1.3}}]},
{"width":149,"height":118,"title":{"text":"(k)","dx":3,"offset":-9.5},"data":{"name":"xps_k"},"transform":[{"fold":["Experimental","Fitted","Base line"]}],
"encoding":{"x":{"field":"be","type":"quantitative","scale":{"domain":[410.5,392],"nice":false,"zero":false},"axis":{"values":[408,400,392],"title":"Binding Energy (eV)"}},"y":{"field":"value","type":"quantitative","scale":{"domain":[-0.45,10.3],"nice":false,"zero":false},"axis":{"values":[0,5,10],"title":"Counts / s"}},
"color":{"field":"key","type":"nominal","scale":{"domain":["Experimental","Fitted","Base line"],"range":["#8e959c","#4466cc","#8a8f95"]},"legend":{"title":null,"orient":"top-left","offset":8,"fillColor":"#fff","strokeColor":"#888","padding":2,"rowPadding":0,"labelFontSize":7,"symbolStrokeWidth":1.5,"labelOffset":2}}},
"layer":[
{"transform":[{"filter":"datum.key === 'Experimental'"}],"mark":{"type":"point","filled":false,"strokeWidth":1,"opacity":1},"encoding":{"shape":{"field":"key","type":"nominal","scale":{"domain":["Experimental","Fitted","Base line"],"range":["circle","stroke","stroke"]},"legend":{"title":null,"orient":"top-left","offset":8,"fillColor":"#fff","strokeColor":"#888","padding":2,"rowPadding":0,"labelFontSize":7,"symbolStrokeWidth":1.5,"labelOffset":2}},"size":{"field":"key","type":"nominal","scale":{"domain":["Experimental","Fitted","Base line"],"range":[24,200,200]},"legend":{"title":null,"orient":"top-left","offset":8,"fillColor":"#fff","strokeColor":"#888","padding":2,"rowPadding":0,"labelFontSize":7,"symbolStrokeWidth":1.5,"labelOffset":2}}}},
{"transform":[{"filter":"datum.key !== 'Experimental'"}],"mark":{"type":"line","strokeWidth":1.3}}]},
{"width":151,"height":118,"title":{"text":"(o)","dx":11,"offset":-2.5},"layer":[
{"data":{"name":"ir_o"},"mark":{"type":"line","color":"#1fb07a","strokeWidth":1.1},"encoding":{"x":{"field":"wn","type":"quantitative","scale":{"domain":[1500,1780,2440,3500],"range":[0,105,106,151],"nice":false,"zero":false},"axis":{"title":"Wavenumber (cm⁻¹)","values":[1500,1550,1600,1650,1700,1750,3000],"format":"d","labelExpr":"(datum.value === 1550 || datum.value === 1650 || datum.value === 1750) ? '' : datum.label","grid":true,"gridDash":[1.5,2],"gridColor":"#99a","gridOpacity":0.7}},"y":{"field":"t","type":"quantitative","scale":{"domain":[0,1.03],"nice":false,"zero":false},"axis":{"title":"% Transmittance (a.u)","labels":false,"values":[0,0.5,1],"titlePadding":3}},"detail":{"field":"seg"}}},
{"data":{"name":"irl_o"},"transform":[{"filter":"datum.kind === 'bond'"}],"mark":{"type":"text","align":"left","baseline":"middle","fontSize":7,"fontWeight":"bold","color":"#7b2a70"},"encoding":{"x":{"field":"wn","type":"quantitative"},"y":{"field":"t","type":"quantitative"},"text":{"field":"label"}}},
{"data":{"name":"irl_o"},"transform":[{"filter":"datum.kind === 'wn'"}],"mark":{"type":"text","align":"left","baseline":"middle","fontSize":6.5,"color":"#7b2a70"},"encoding":{"x":{"field":"wn","type":"quantitative"},"y":{"field":"t","type":"quantitative"},"text":{"field":"label"}}},
{"mark":{"type":"text","text":"//","fontSize":9,"color":"#333"},"encoding":{"x":{"datum":2100},"y":{"datum":0}}}]},
{"width":150,"height":117,"title":{"text":"(d)","dx":9,"offset":-4.5},"layer":[
{"data":{"name":"xrd_d"},"mark":{"type":"line","color":"#7a1a1a","strokeWidth":1.1},"encoding":{"x":{"field":"theta","type":"quantitative","scale":{"domain":[4.8,50],"nice":false,"zero":false},"axis":{"values":[25,50],"title":"2 Theta/degree"}},"y":{"field":"intensity","type":"quantitative","scale":{"domain":[-2,72],"nice":false,"zero":false},"axis":{"values":[0,35,70],"title":"Intensity (a.u)"}}}},
{"data":{"name":"lab_d"},"mark":{"type":"text","angle":270,"align":"left","baseline":"middle","fontSize":7,"color":"#5fcf3f"},"encoding":{"x":{"field":"theta","type":"quantitative"},"y":{"field":"intensity","type":"quantitative"},"text":{"field":"label"}}}]},
{"width":149,"height":117,"title":{"text":"(h)","dx":1,"offset":-8.5},"data":{"name":"xps_h"},"transform":[{"fold":["Experimental","Baseline","Fitted"]}],
"encoding":{"x":{"field":"be","type":"quantitative","scale":{"domain":[542.3,525],"nice":false,"zero":false},"axis":{"values":[539,532,525],"title":"Binding Energy (eV)"}},"y":{"field":"value","type":"quantitative","scale":{"domain":[-0.27,6],"nice":false,"zero":false},"axis":{"values":[0,2.5,5],"format":".1f","title":"Counts / s"}},
"color":{"field":"key","type":"nominal","scale":{"domain":["Experimental","Baseline","Fitted"],"range":["#8a3a8a","#a07060","#22aa22"]},"legend":{"title":null,"orient":"top-left","offset":9,"fillColor":"#fff","strokeColor":"#888","padding":2,"rowPadding":0,"labelFontSize":7,"symbolStrokeWidth":1.5,"labelOffset":2}}},
"layer":[
{"transform":[{"filter":"datum.key === 'Experimental'"}],"mark":{"type":"point","filled":false,"strokeWidth":0.8,"opacity":1},"encoding":{"shape":{"field":"key","type":"nominal","scale":{"domain":["Experimental","Baseline","Fitted"],"range":["circle","stroke","stroke"]},"legend":{"title":null,"orient":"top-left","offset":9,"fillColor":"#fff","strokeColor":"#888","padding":2,"rowPadding":0,"labelFontSize":7,"symbolStrokeWidth":1.5,"labelOffset":2}},"size":{"field":"key","type":"nominal","scale":{"domain":["Experimental","Baseline","Fitted"],"range":[16,200,200]},"legend":{"title":null,"orient":"top-left","offset":9,"fillColor":"#fff","strokeColor":"#888","padding":2,"rowPadding":0,"labelFontSize":7,"symbolStrokeWidth":1.5,"labelOffset":2}}}},
{"transform":[{"filter":"datum.key !== 'Experimental'"}],"mark":{"type":"line","strokeWidth":1.3}}]},
{"width":149,"height":117,"title":{"text":"(l)","dx":2,"offset":-8.5},"data":{"name":"xps_l"},"transform":[{"fold":["Experimental","Base line","Fitted"]}],
"encoding":{"x":{"field":"be","type":"quantitative","scale":{"domain":[545.5,525],"nice":false,"zero":false},"axis":{"values":[539,532,525],"title":"Binding Energy (eV)"}},"y":{"field":"value","type":"quantitative","scale":{"domain":[-0.45,12],"nice":false,"zero":false},"axis":{"values":[0,6,12],"title":"Counts /s"}},
"color":{"field":"key","type":"nominal","scale":{"domain":["Experimental","Base line","Fitted"],"range":["#8e959c","#a0a4a8","#1a7a1a"]},"legend":{"title":null,"orient":"top-left","offset":8,"fillColor":"#fff","strokeColor":"#888","padding":2,"rowPadding":0,"labelFontSize":7,"symbolStrokeWidth":1.5,"labelOffset":2}}},
"layer":[
{"transform":[{"filter":"datum.key === 'Experimental'"}],"mark":{"type":"point","filled":false,"strokeWidth":1,"opacity":1},"encoding":{"shape":{"field":"key","type":"nominal","scale":{"domain":["Experimental","Base line","Fitted"],"range":["circle","stroke","stroke"]},"legend":{"title":null,"orient":"top-left","offset":8,"fillColor":"#fff","strokeColor":"#888","padding":2,"rowPadding":0,"labelFontSize":7,"symbolStrokeWidth":1.5,"labelOffset":2}},"size":{"field":"key","type":"nominal","scale":{"domain":["Experimental","Base line","Fitted"],"range":[24,200,200]},"legend":{"title":null,"orient":"top-left","offset":8,"fillColor":"#fff","strokeColor":"#888","padding":2,"rowPadding":0,"labelFontSize":7,"symbolStrokeWidth":1.5,"labelOffset":2}}}},
{"transform":[{"filter":"datum.key !== 'Experimental'"}],"mark":{"type":"line","strokeWidth":1.4}}]},
{"width":151,"height":117,"title":{"text":"(p)","dx":11,"offset":-9.5},"layer":[
{"data":{"name":"ir_p"},"mark":{"type":"line","color":"#7b1f2c","strokeWidth":1.1},"encoding":{"x":{"field":"wn","type":"quantitative","scale":{"domain":[1500,1780,2440,3500],"range":[0,105,106,151],"nice":false,"zero":false},"axis":{"title":"Wavenumber (cm⁻¹)","values":[1500,1550,1600,1650,1700,1750,3000],"format":"d","labelExpr":"(datum.value === 1550 || datum.value === 1650 || datum.value === 1750) ? '' : datum.label","grid":true,"gridDash":[1.5,2],"gridColor":"#99a","gridOpacity":0.7}},"y":{"field":"t","type":"quantitative","scale":{"domain":[0,1.03],"nice":false,"zero":false},"axis":{"title":"% Transmittance (a.u)","labels":false,"values":[0,0.5,1],"titlePadding":3}},"detail":{"field":"seg"}}},
{"data":{"name":"irl_p"},"transform":[{"filter":"datum.kind === 'bond'"}],"mark":{"type":"text","align":"left","baseline":"middle","fontSize":7,"fontWeight":"bold","color":"#44dd22"},"encoding":{"x":{"field":"wn","type":"quantitative"},"y":{"field":"t","type":"quantitative"},"text":{"field":"label"}}},
{"data":{"name":"irl_p"},"transform":[{"filter":"datum.kind === 'wn'"}],"mark":{"type":"text","align":"left","baseline":"middle","fontSize":6.5,"color":"#44dd22"},"encoding":{"x":{"field":"wn","type":"quantitative"},"y":{"field":"t","type":"quantitative"},"text":{"field":"label"}}},
{"mark":{"type":"text","text":"//","fontSize":9,"color":"#333"},"encoding":{"x":{"datum":2100},"y":{"datum":0}}}]}
]
}
